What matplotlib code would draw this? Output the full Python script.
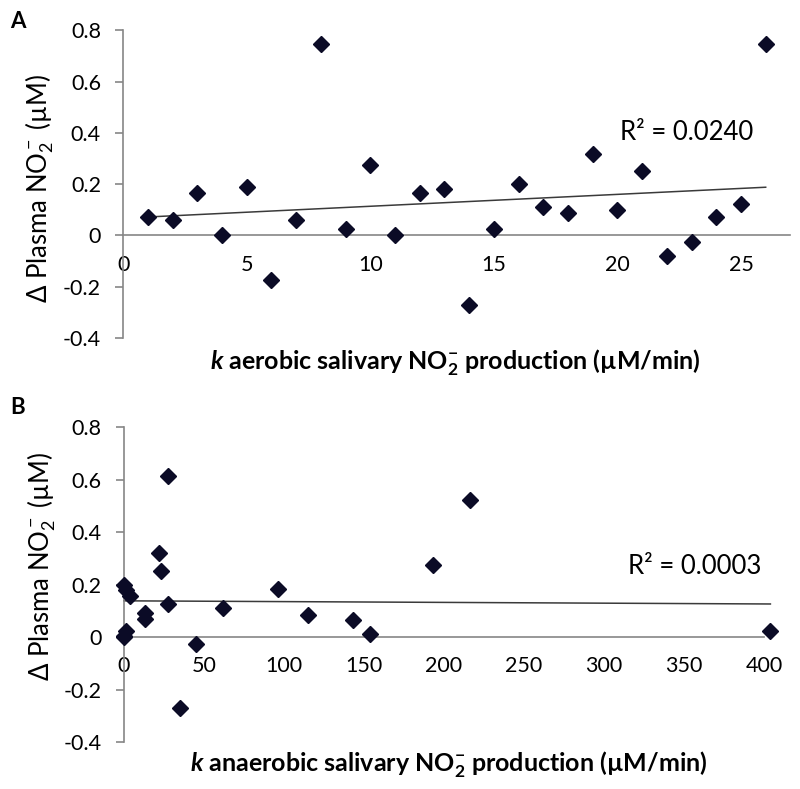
import numpy as np
from matplotlib import pyplot as plt

plt.rcParams['font.family'] = ['Lato', 'DejaVu Sans']
plt.rcParams['mathtext.fontset'] = 'custom'
plt.rcParams['mathtext.rm'] = 'Lato'
plt.rcParams['mathtext.it'] = 'Lato:italic'
plt.rcParams['mathtext.bf'] = 'Lato:bold'
plt.rcParams['mathtext.bfit'] = 'Lato:italic:bold'

# Panel A: aerobic
k_aer = [1, 2, 3, 4, 5, 6, 7, 8, 9, 10, 11, 12, 13,
         14, 15, 16, 17, 18, 19, 20, 21, 22, 23, 24, 25, 26]
dno2_a = [0.07, 0.06, 0.165, 0.0, 0.19, -0.175, 0.06, 0.745, 0.025, 0.275, 0.0, 0.165, 0.183,
          -0.27, 0.024, 0.2, 0.11, 0.086, 0.316, 0.098, 0.25, -0.08, -0.025, 0.072, 0.122, 0.745]
trend_a_x = [1, 26]
trend_a_y = [0.072, 0.188]
r2_a = "R² = 0.0240"

# Panel B: anaerobic
k_ana = [0, 1, 4, 0, 0, 1, 13, 13, 22, 23, 27.5, 27.5, 35, 45,
         62, 96, 115, 143, 154, 193, 216, 404]
dno2_b = [0.2, 0.18, 0.157, 0.0, 0.005, 0.022, 0.09, 0.07, 0.32, 0.25, 0.612, 0.125, -0.27, -0.025,
          0.11, 0.183, 0.083, 0.064, 0.01, 0.275, 0.523, 0.023]
trend_b_x = [0, 404]
trend_b_y = [0.138, 0.126]
r2_b = "R² = 0.0003"

ylab = r'$\Delta$ Plasma NO$_2^-$ (µM)'
xlab_a = r'$\mathbfit{k}$ aerobic salivary NO$_{\mathbf{2}}^{\mathbf{-}}$ production (µM/min)'
xlab_b = r'$\mathbfit{k}$ anaerobic salivary NO$_{\mathbf{2}}^{\mathbf{-}}$ production (µM/min)'

axis_col = '#868686'
mk_col = '#0b0b26'

fig = plt.figure(figsize=(8, 7.89), dpi=100)
ax1 = fig.add_axes([0.154, 0.5716, 0.834, 0.390])
ax2 = fig.add_axes([0.155, 0.0596, 0.800, 0.399])


def style(ax, x, y, tx, ty, xmax, xticks, r2, r2pos):
    ax.plot(x, y, 'D', color=mk_col, ms=8, clip_on=False, zorder=3)
    ax.plot(tx, ty, color='#3a3a3a', lw=1.1, zorder=2, clip_on=False)
    ax.set_xlim(0, xmax)
    ax.set_ylim(-0.4, 0.8)
    ax.set_yticks([-0.4, -0.2, 0, 0.2, 0.4, 0.6, 0.8])
    ax.set_yticklabels(['-0.4', '-0.2', '0', '0.2', '0.4', '0.6', '0.8'])
    ax.set_xticks(xticks)
    ax.spines['top'].set_visible(False)
    ax.spines['right'].set_visible(False)
    ax.spines['bottom'].set_position(('data', 0))
    for s in ['left', 'bottom']:
        ax.spines[s].set_color(axis_col)
        ax.spines[s].set_linewidth(1.2)
    ax.tick_params(axis='y', direction='out', length=6, width=1.2, color=axis_col,
                   pad=10, labelsize=15.5)
    ax.tick_params(axis='x', length=0, pad=14, labelsize=15.5)
    ax.text(r2pos[0], r2pos[1], r2, fontsize=18.5, va='center', ha='left')
    ax.patch.set_visible(False)


style(ax1, k_aer, dno2_a, trend_a_x, trend_a_y, 27, [0, 5, 10, 15, 20, 25], r2_a, (20.1, 0.40))
style(ax2, k_ana, dno2_b, trend_b_x, trend_b_y, 400,
      [0, 50, 100, 150, 200, 250, 300, 350, 400], r2_b, (315, 0.268))

fig.text(0.05, 1 - 188 / 789, ylab, rotation=90, fontsize=18.5, ha='center', va='center')
fig.text(0.052, 1 - 566 / 789, ylab, rotation=90, fontsize=18.5, ha='center', va='center')
fig.text(455 / 800, 1 - 363 / 789, xlab_a, fontsize=18, fontweight='bold', ha='center', va='center')
fig.text(449 / 800, 1 - 765 / 789, xlab_b, fontsize=18, fontweight='bold', ha='center', va='center')
fig.text(18 / 800, 1 - 22 / 789, 'A', fontsize=16, fontweight='bold', ha='center', va='center')
fig.text(18 / 800, 1 - 407 / 789, 'B', fontsize=16, fontweight='bold', ha='center', va='center')

fig.savefig('out.png', dpi=100)
